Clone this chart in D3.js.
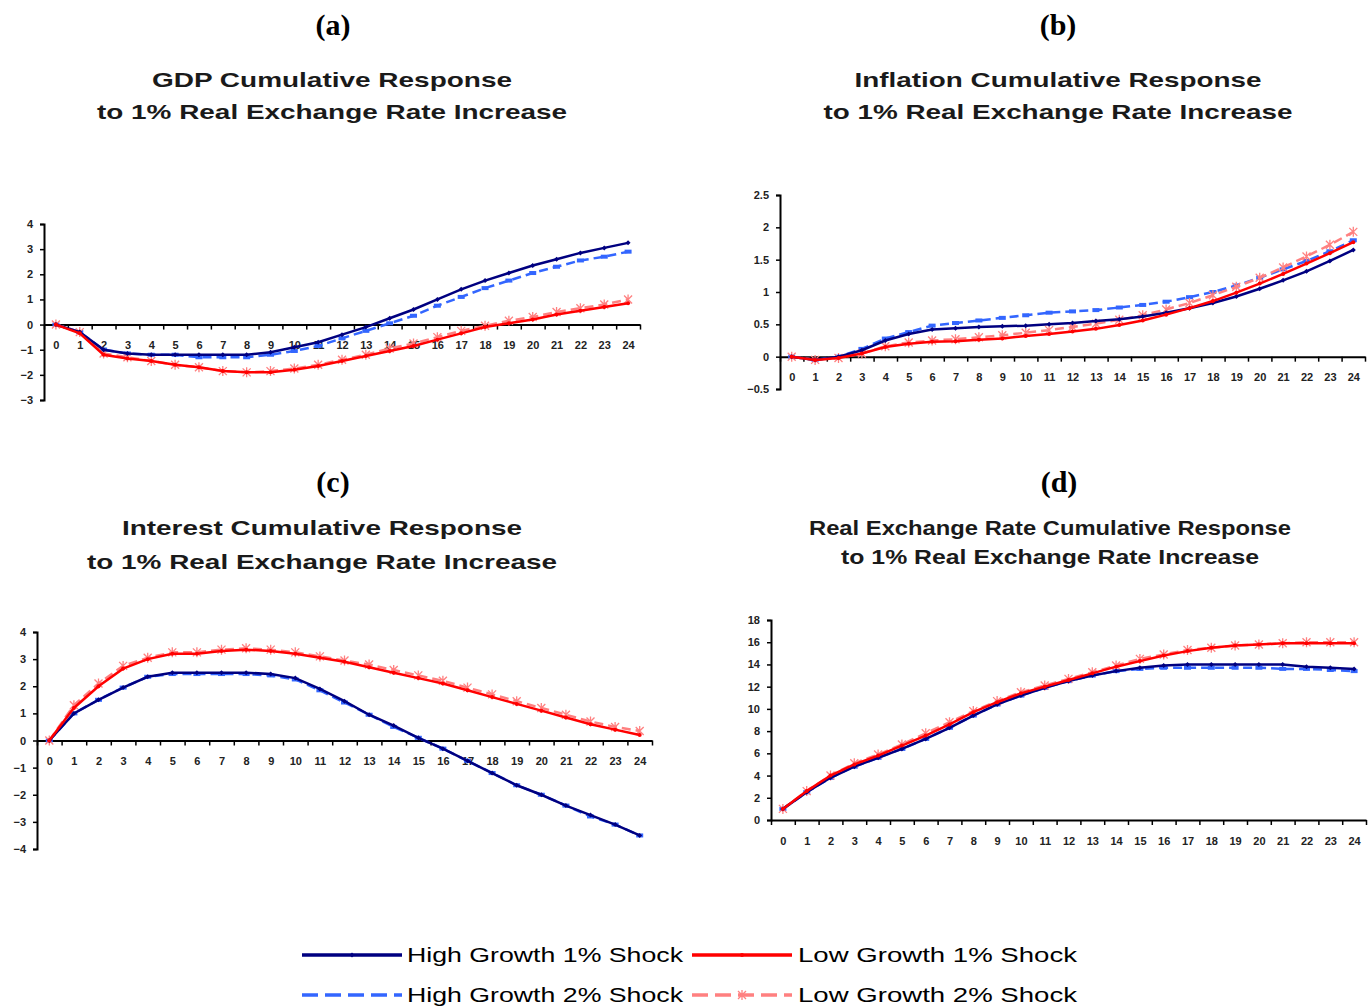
<!DOCTYPE html>
<html>
<head>
<meta charset="utf-8">
<script src="https://cdn.jsdelivr.net/npm/d3@7"></script>
<style>
  html, body { margin: 0; padding: 0; background: #fff; }
  svg { display: block; }
</style>
</head>
<body>
<svg id="chart"></svg>
<script>
const width = 1368,
      height = 1008;

// horizon (quarters) 0..24
const periods = [0,1,2,3,4,5,6,7,8,9,10,11,12,13,14,15,16,17,18,19,20,21,22,23,24];

const seriesNames = ["High Growth 1% Shock", "High Growth 2% Shock", "Low Growth 1% Shock", "Low Growth 2% Shock"];

// (a) GDP
const gdpHigh1 = [0,-0.3,-1.0,-1.15,-1.2,-1.2,-1.2,-1.2,-1.2,-1.1,-0.9,-0.7,-0.4,-0.1,0.25,0.6,1.0,1.4,1.75,2.05,2.35,2.6,2.85,3.05,3.25];
const gdpHigh2 = [0,-0.3,-1.0,-1.15,-1.2,-1.2,-1.3,-1.3,-1.3,-1.2,-1.05,-0.85,-0.55,-0.25,0.05,0.35,0.75,1.1,1.45,1.75,2.05,2.3,2.55,2.7,2.9];
const gdpLow1  = [0,-0.35,-1.2,-1.35,-1.45,-1.6,-1.7,-1.85,-1.9,-1.9,-1.8,-1.65,-1.45,-1.25,-1.05,-0.85,-0.6,-0.35,-0.1,0.05,0.2,0.4,0.55,0.7,0.85];
const gdpLow2  = [0,-0.3,-1.15,-1.3,-1.45,-1.6,-1.7,-1.85,-1.9,-1.85,-1.75,-1.6,-1.4,-1.2,-0.95,-0.75,-0.5,-0.25,-0.05,0.15,0.3,0.5,0.65,0.8,1.0];
const gdpTicks = [-3,-2,-1,0,1,2,3,4];

// (b) Inflation
const infHigh1 = [0,-0.05,0,0.1,0.25,0.35,0.42,0.44,0.46,0.47,0.48,0.5,0.52,0.55,0.58,0.62,0.68,0.75,0.83,0.93,1.05,1.18,1.32,1.48,1.65];
const infHigh2 = [0,-0.05,0,0.12,0.28,0.38,0.48,0.52,0.56,0.6,0.64,0.68,0.7,0.72,0.76,0.8,0.85,0.92,1.0,1.1,1.22,1.35,1.48,1.63,1.8];
const infLow1  = [0,-0.05,-0.02,0.05,0.15,0.2,0.23,0.24,0.26,0.28,0.32,0.35,0.39,0.43,0.49,0.56,0.65,0.75,0.86,0.99,1.13,1.28,1.44,1.6,1.77];
const infLow2  = [0,-0.05,-0.02,0.05,0.16,0.22,0.25,0.27,0.3,0.33,0.37,0.41,0.46,0.51,0.57,0.64,0.73,0.83,0.95,1.08,1.22,1.38,1.55,1.73,1.93];
const infTicks = [-0.5,0,0.5,1,1.5,2,2.5];

// (c) Interest
const intHigh1 = [0,1.0,1.5,1.95,2.35,2.5,2.5,2.5,2.5,2.45,2.3,1.9,1.45,0.95,0.55,0.1,-0.3,-0.75,-1.2,-1.65,-2.0,-2.4,-2.75,-3.1,-3.5];
const intHigh2 = [0,1.0,1.5,1.95,2.35,2.45,2.45,2.45,2.45,2.4,2.25,1.85,1.4,0.95,0.5,0.1,-0.3,-0.75,-1.2,-1.65,-2.0,-2.4,-2.8,-3.1,-3.5];
const intLow1  = [0,1.2,2.0,2.65,3.0,3.2,3.2,3.3,3.35,3.3,3.2,3.05,2.9,2.7,2.5,2.3,2.1,1.85,1.6,1.35,1.1,0.85,0.6,0.4,0.2];
const intLow2  = [0,1.3,2.1,2.75,3.05,3.25,3.25,3.35,3.4,3.35,3.25,3.1,2.95,2.8,2.6,2.4,2.2,1.95,1.7,1.45,1.2,0.95,0.7,0.5,0.35];
const intTicks = [-4,-3,-2,-1,0,1,2,3,4];

// (d) Real exchange rate
const rerHigh1 = [1,2.5,3.8,4.8,5.6,6.4,7.3,8.3,9.4,10.4,11.2,11.9,12.5,13.0,13.4,13.7,13.9,14.0,14.0,14.0,14.0,14.0,13.8,13.7,13.6];
const rerHigh2 = [1,2.5,3.8,4.8,5.6,6.4,7.3,8.3,9.4,10.4,11.2,11.9,12.5,13.0,13.4,13.6,13.7,13.7,13.7,13.7,13.7,13.6,13.6,13.5,13.4];
const rerLow1  = [1,2.6,4.0,5.0,5.8,6.7,7.6,8.6,9.7,10.6,11.4,12.0,12.6,13.2,13.8,14.3,14.8,15.2,15.5,15.7,15.8,15.9,15.9,15.9,15.9];
const rerLow2  = [1,2.6,4.0,5.1,5.9,6.8,7.8,8.8,9.8,10.7,11.5,12.1,12.7,13.3,13.9,14.5,14.9,15.3,15.5,15.7,15.8,15.9,16.0,16.0,16.0];
const rerTicks = [0,2,4,6,8,10,12,14,16,18];

const styles = [
  { color: "#000080", dash: null,  marker: "diamond" },
  { color: "#3366ff", dash: "9,5", marker: "square" },
  { color: "#ff0000", dash: null,  marker: "dot" },
  { color: "#ff8080", dash: "9,5", marker: "star" }
];

const panels = [
  { tag: "(a)", title: ["GDP Cumulative Response", "to 1% Real Exchange Rate Increase"],
    series: [gdpHigh1, gdpHigh2, gdpLow1, gdpLow2], ticks: gdpTicks,
    cx: 333, tx: 332, tagY: 25, titleY: [80, 112], titleW: [360, 470],
    x0: 44, x1: 640, yTop: 224, yBot: 400 },
  { tag: "(b)", title: ["Inflation Cumulative Response", "to 1% Real Exchange Rate Increase"],
    series: [infHigh1, infHigh2, infLow1, infLow2], ticks: infTicks,
    cx: 1058, tx: 1058, tagY: 25, titleY: [80, 112], titleW: [407, 469],
    x0: 780, x1: 1365, yTop: 195, yBot: 389 },
  { tag: "(c)", title: ["Interest Cumulative Response", "to 1% Real Exchange Rate Increase"],
    series: [intHigh1, intHigh2, intLow1, intLow2], ticks: intTicks,
    cx: 333, tx: 322, tagY: 482, titleY: [528, 562], titleW: [400, 470],
    x0: 37, x1: 652, yTop: 632, yBot: 849 },
  { tag: "(d)", title: ["Real Exchange Rate Cumulative Response", "to 1% Real Exchange Rate Increase"],
    series: [rerHigh1, rerHigh2, rerLow1, rerLow2], ticks: rerTicks,
    cx: 1059, tx: 1050, tagY: 482, titleY: [528, 557], titleW: [482, 418],
    x0: 771, x1: 1366, yTop: 620, yBot: 820 }
];

const svg = d3.select("#chart")
  .attr("width", width)
  .attr("height", height)
  .style("font-family", "'Liberation Sans', Arial, sans-serif");

function drawMarker(g, type, x, y, color) {
  if (type === "diamond") {
    g.append("path").attr("d", `M${x},${y-2.5}L${x+2.5},${y}L${x},${y+2.5}L${x-2.5},${y}Z`).attr("fill", color);
  } else if (type === "square") {
    g.append("rect").attr("x", x - 3.5).attr("y", y - 2).attr("width", 7).attr("height", 4).attr("fill", color);
  } else if (type === "dot") {
    g.append("circle").attr("cx", x).attr("cy", y).attr("r", 2).attr("fill", color);
  } else {
    g.append("path")
      .attr("d", `M${x-4},${y-4}L${x+4},${y+4}M${x-4},${y+4}L${x+4},${y-4}M${x},${y-5}L${x},${y+5}`)
      .attr("stroke", color).attr("stroke-width", 1.3).attr("fill", "none");
  }
}

panels.forEach(p => {
  const g = svg.append("g");

  // headings
  g.append("text")
    .attr("x", p.cx).attr("y", p.tagY + 10)
    .attr("text-anchor", "middle")
    .style("font-family", "'Liberation Serif', 'Times New Roman', serif")
    .style("font-weight", "bold").style("font-size", "30px")
    .text(p.tag);
  p.title.forEach((t, i) => {
    g.append("text")
      .attr("x", p.tx).attr("y", p.titleY[i] + 7)
      .attr("text-anchor", "middle")
      .attr("textLength", p.titleW[i]).attr("lengthAdjust", "spacingAndGlyphs")
      .attr("fill", "#1a1a1a")
      .style("font-weight", "bold").style("font-size", "21px")
      .text(t);
  });

  const x = d3.scaleLinear().domain([-0.5, 24.5]).range([p.x0, p.x1]);
  const y = d3.scaleLinear().domain(d3.extent(p.ticks)).range([p.yBot, p.yTop]);
  const y0 = y(Math.max(0, p.ticks[0]));

  // y axis
  const yAxis = g.append("g")
    .attr("transform", `translate(${p.x0},0)`)
    .call(d3.axisLeft(y).tickValues(p.ticks).tickSize(4).tickPadding(7).tickFormat(d3.format("")));
  yAxis.select(".domain").attr("stroke-width", 2);
  yAxis.selectAll("line").attr("stroke-width", 1.5);
  yAxis.selectAll("text").style("font-size", "11px").style("font-family", "'Liberation Sans', Arial, sans-serif")
    .style("font-weight", "bold").attr("fill", "#222");

  // x axis: tick marks between categories, labels under the centres
  const xAxis = g.append("g")
    .attr("transform", `translate(0,${y0})`)
    .call(d3.axisBottom(x).tickValues(d3.range(-0.5, 25, 1)).tickSize(5).tickFormat("").tickSizeOuter(0));
  xAxis.select(".domain").attr("stroke-width", 2);
  xAxis.selectAll("line").attr("stroke-width", 1.5);
  const xLab = g.append("g")
    .attr("transform", `translate(0,${y0})`)
    .call(d3.axisBottom(x).tickValues(periods).tickSize(0).tickPadding(17));
  xLab.select(".domain").remove();
  xLab.selectAll("text").style("font-size", "11px").style("font-family", "'Liberation Sans', Arial, sans-serif")
    .style("font-weight", "bold").attr("fill", "#222");

  // series, draw 2% shocks below 1% shocks
  const order = [1, 3, 0, 2];
  order.forEach(k => {
    const st = styles[k];
    const vals = p.series[k];
    const line = d3.line().x((d, i) => x(periods[i])).y(d => y(d));
    g.append("path")
      .datum(vals)
      .attr("d", line)
      .attr("fill", "none")
      .attr("stroke", st.color)
      .attr("stroke-width", 2.5)
      .attr("stroke-dasharray", st.dash);
    const mg = g.append("g");
    vals.forEach((v, i) => drawMarker(mg, st.marker, x(periods[i]), y(v), st.color));
  });
});

// legend
const legendRows = [
  { y: 955, items: [0, 2] },
  { y: 995, items: [1, 3] }
];
const legendCols = [
  { x0: 302, x1: 402, tx: 407 },
  { x0: 692, x1: 792, tx: 798 }
];
const legend = svg.append("g");
legendRows.forEach(r => {
  r.items.forEach((k, c) => {
    const st = styles[k];
    const col = legendCols[c];
    legend.append("line")
      .attr("x1", col.x0).attr("x2", col.x1).attr("y1", r.y).attr("y2", r.y)
      .attr("stroke", st.color).attr("stroke-width", 3.5)
      .attr("stroke-dasharray", st.dash ? "16,7" : null);
    if (k !== 1) drawMarker(legend, st.marker, (col.x0 + col.x1) / 2, r.y, st.color);
    legend.append("text")
      .attr("x", col.tx).attr("y", r.y + 7)
      .attr("textLength", c === 0 ? 276 : 279).attr("lengthAdjust", "spacingAndGlyphs")
      .style("font-size", "21px")
      .text(seriesNames[k]);
  });
});
</script>
</body>
</html>
